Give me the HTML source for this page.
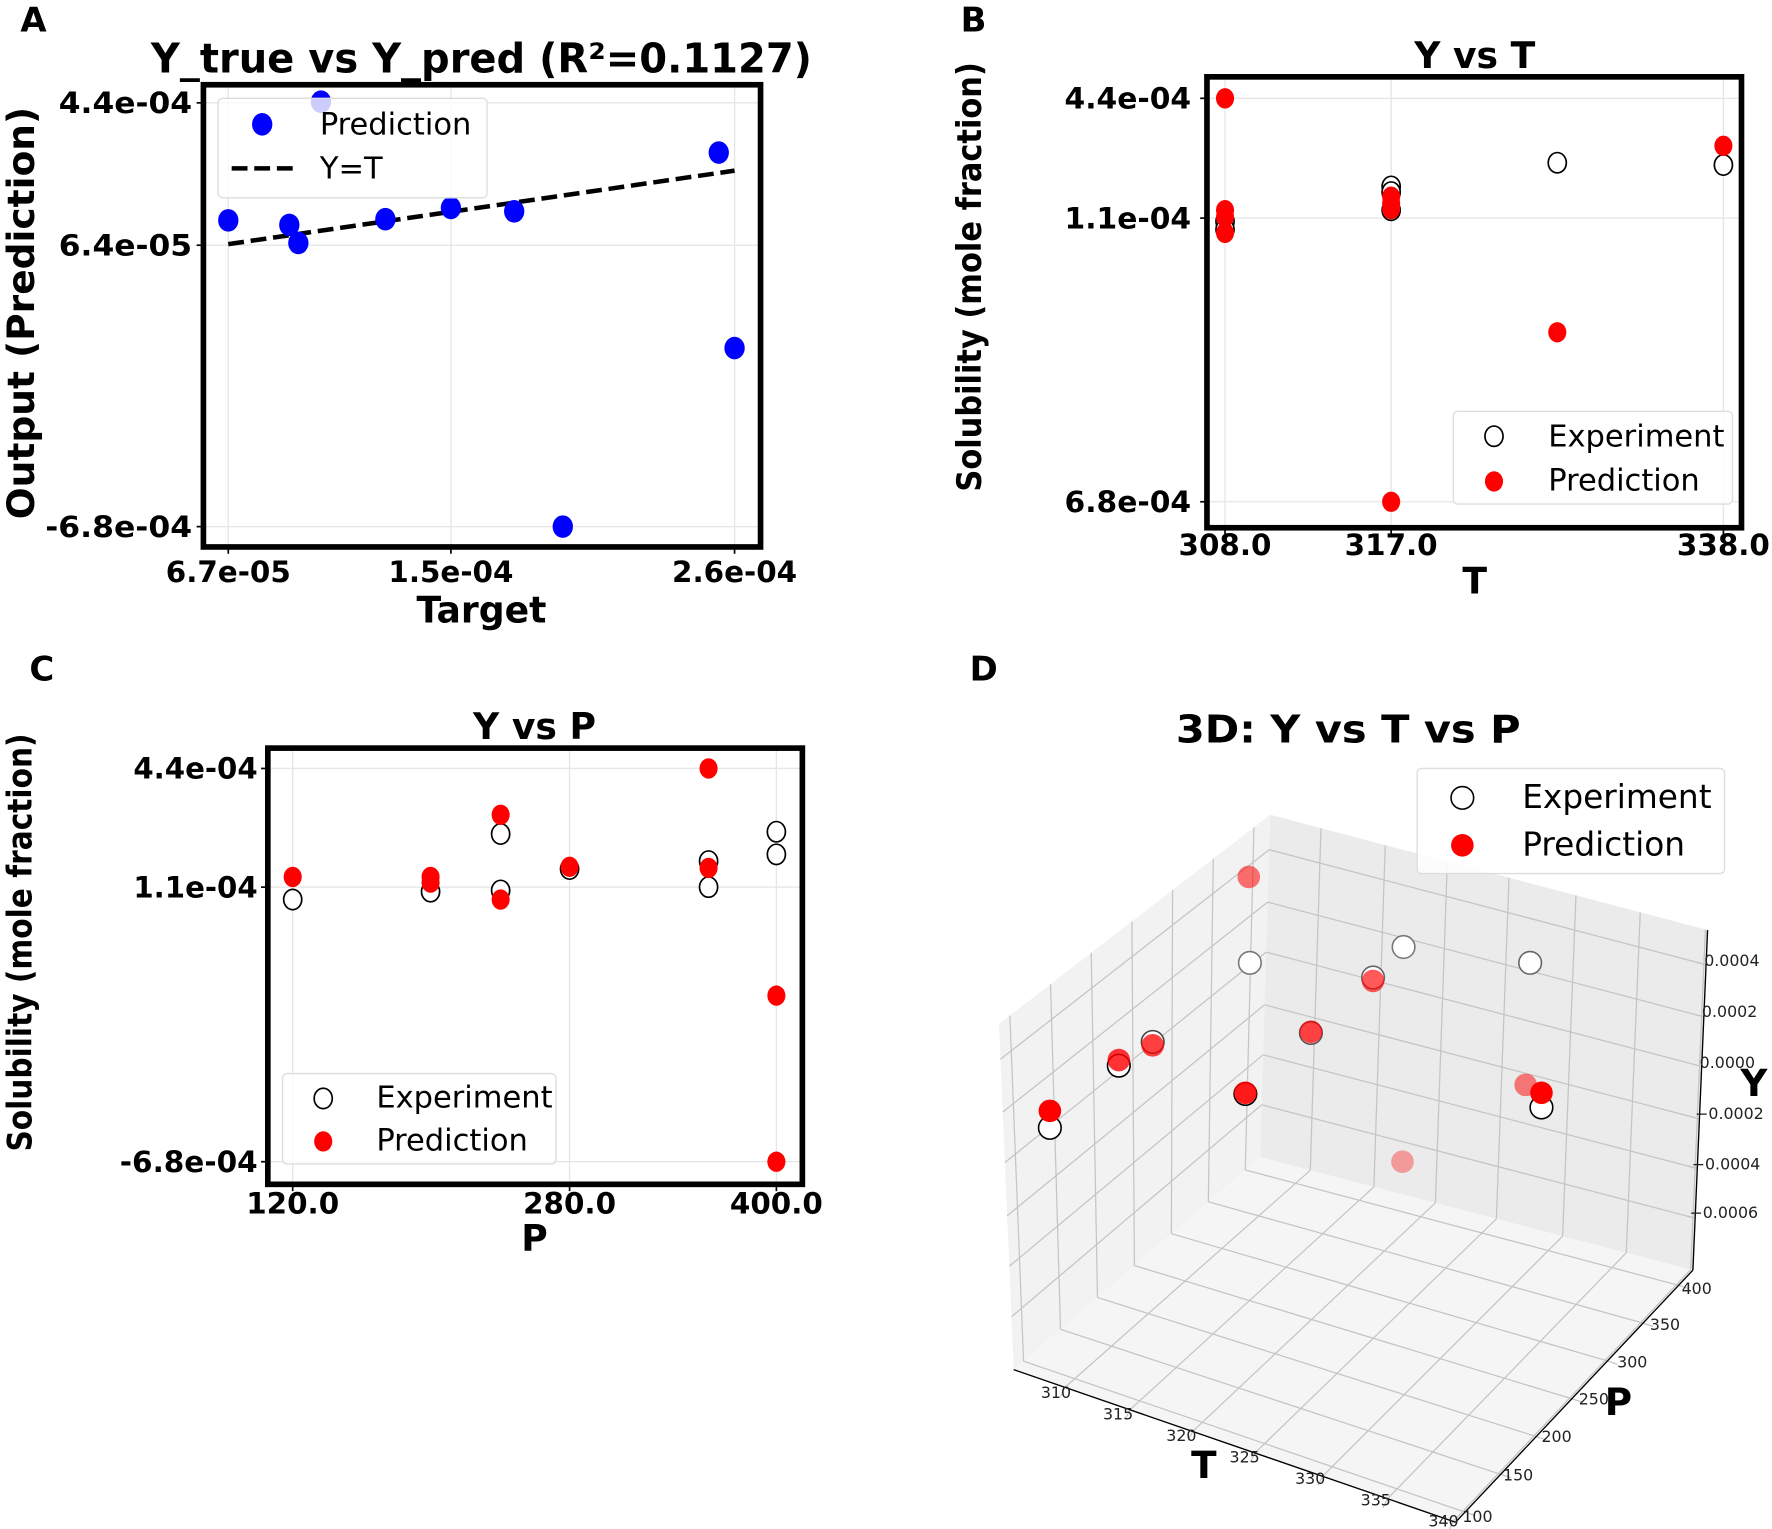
<!DOCTYPE html>
<html><head><meta charset="utf-8"><style>
html,body{margin:0;padding:0;background:#fff}
svg{display:block}
text{font-family:"DejaVu Sans","Liberation Sans",sans-serif}
.b{font-weight:bold}
</style></head><body>
<svg id="s" width="1772" height="1529" viewBox="0 0 1568 1353" preserveAspectRatio="none" xmlns="http://www.w3.org/2000/svg">
<rect width="1568" height="1353" fill="#fff"/>
<g class="b" font-size="30" font-weight="bold">
<text x="18" y="28">A</text><text x="850" y="28">B</text><text x="26" y="602">C</text><text x="858" y="602">D</text>
</g>

<!-- ===== Panel A ===== -->
<g stroke="#e6e6e6" stroke-width="1.2">
<line x1="180" y1="91" x2="673" y2="91"/><line x1="180" y1="217" x2="673" y2="217"/><line x1="180" y1="466" x2="673" y2="466"/>
<line x1="202" y1="75" x2="202" y2="484"/><line x1="399" y1="75" x2="399" y2="484"/><line x1="650" y1="75" x2="650" y2="484"/>
</g>
<g stroke="#000" stroke-width="1.5">
<line x1="174" y1="91" x2="180" y2="91"/><line x1="174" y1="217" x2="180" y2="217"/><line x1="174" y1="466" x2="180" y2="466"/>
<line x1="202" y1="484" x2="202" y2="490"/><line x1="399" y1="484" x2="399" y2="490"/><line x1="650" y1="484" x2="650" y2="490"/>
</g>
<line x1="202" y1="216" x2="650" y2="151" stroke="#000" stroke-width="4" stroke-dasharray="14,6"/>
<g fill="#0000ff">
<ellipse cx="202" cy="195" rx="9" ry="10"/><ellipse cx="256" cy="199" rx="9" ry="10"/><ellipse cx="264" cy="215" rx="9" ry="10"/>
<ellipse cx="341" cy="194" rx="9" ry="10"/><ellipse cx="399" cy="184" rx="9" ry="10"/><ellipse cx="455" cy="187" rx="9" ry="10"/>
<ellipse cx="498" cy="466" rx="9" ry="10"/><ellipse cx="636" cy="135" rx="9" ry="10"/><ellipse cx="650" cy="308" rx="9" ry="10"/>
<ellipse cx="284" cy="90" rx="9" ry="10"/>
</g>
<rect x="193" y="87" width="238" height="88" rx="4" fill="#fff" fill-opacity="0.8" stroke="#ddd" stroke-width="1.2"/>
<ellipse cx="232" cy="110" rx="9" ry="10" fill="#0000ff"/>
<line x1="205" y1="149" x2="259" y2="149" stroke="#000" stroke-width="4" stroke-dasharray="14,6"/>
<text x="283" y="119" font-size="27">Prediction</text>
<text x="283" y="158" font-size="27">Y=T</text>
<rect x="180" y="75" width="493" height="409" fill="none" stroke="#000" stroke-width="5"/>
<text x="426" y="64" font-size="36" class="b" text-anchor="middle" textLength="585" lengthAdjust="spacingAndGlyphs">Y_true vs Y_pred (R²=0.1127)</text>
<g font-size="26" class="b" text-anchor="end">
<text x="170" y="100" textLength="118" lengthAdjust="spacingAndGlyphs">4.4e-04</text><text x="170" y="226" textLength="118" lengthAdjust="spacingAndGlyphs">6.4e-05</text><text x="170" y="475" textLength="130" lengthAdjust="spacingAndGlyphs">-6.8e-04</text>
</g>
<g font-size="26" class="b" text-anchor="middle">
<text x="202" y="515">6.7e-05</text><text x="399" y="515">1.5e-04</text><text x="650" y="515">2.6e-04</text>
</g>
<text x="426" y="551" font-size="32" class="b" text-anchor="middle">Target</text>
<text transform="translate(30,277) rotate(-90)" font-size="33" class="b" text-anchor="middle" textLength="365" lengthAdjust="spacingAndGlyphs">Output (Prediction)</text>

<!-- ===== Panel B ===== -->
<g stroke="#e6e6e6" stroke-width="1.2">
<line x1="1068" y1="87" x2="1541" y2="87"/><line x1="1068" y1="193" x2="1541" y2="193"/><line x1="1068" y1="444" x2="1541" y2="444"/>
<line x1="1084" y1="68" x2="1084" y2="467"/><line x1="1231" y1="68" x2="1231" y2="467"/><line x1="1525" y1="68" x2="1525" y2="467"/>
</g>
<g stroke="#000" stroke-width="1.5">
<line x1="1062" y1="87" x2="1068" y2="87"/><line x1="1062" y1="193" x2="1068" y2="193"/><line x1="1062" y1="444" x2="1068" y2="444"/>
<line x1="1084" y1="467" x2="1084" y2="473"/><line x1="1231" y1="467" x2="1231" y2="473"/><line x1="1525" y1="467" x2="1525" y2="473"/>
</g>
<g fill="#fff" stroke="#000" stroke-width="1.5">
<ellipse cx="1084" cy="196" rx="8" ry="9"/><ellipse cx="1084" cy="203" rx="8" ry="9"/><ellipse cx="1231" cy="165" rx="8" ry="9"/>
<ellipse cx="1231" cy="170" rx="8" ry="9"/><ellipse cx="1231" cy="186" rx="8" ry="9"/><ellipse cx="1378" cy="144" rx="8" ry="9"/><ellipse cx="1525" cy="146" rx="8" ry="9"/>
</g>
<g fill="#ff0000">
<ellipse cx="1084" cy="87" rx="8" ry="9"/><ellipse cx="1084" cy="186" rx="8" ry="9"/><ellipse cx="1084" cy="192" rx="8" ry="9"/><ellipse cx="1084" cy="206" rx="8" ry="9"/>
<ellipse cx="1231" cy="174" rx="8" ry="9"/><ellipse cx="1231" cy="180" rx="8" ry="9"/><ellipse cx="1231" cy="185" rx="8" ry="9"/>
<ellipse cx="1378" cy="294" rx="8" ry="9"/><ellipse cx="1231" cy="444" rx="8" ry="9"/><ellipse cx="1525" cy="129" rx="8" ry="9"/>
</g>
<rect x="1286" y="364" width="247" height="82" rx="4" fill="#fff" fill-opacity="0.8" stroke="#ddd" stroke-width="1.2"/>
<ellipse cx="1322" cy="386" rx="8" ry="9" fill="#fff" stroke="#000" stroke-width="1.5"/>
<ellipse cx="1322" cy="426" rx="8" ry="9" fill="#ff0000"/>
<text x="1370" y="395" font-size="27">Experiment</text>
<text x="1370" y="434" font-size="27">Prediction</text>
<rect x="1068" y="68" width="473" height="399" fill="none" stroke="#000" stroke-width="5"/>
<text x="1305" y="60" font-size="32" class="b" text-anchor="middle">Y vs T</text>
<g font-size="26" class="b" text-anchor="end">
<text x="1054" y="96" textLength="112" lengthAdjust="spacingAndGlyphs">4.4e-04</text><text x="1054" y="202" textLength="112" lengthAdjust="spacingAndGlyphs">1.1e-04</text><text x="1054" y="453" textLength="112" lengthAdjust="spacingAndGlyphs">6.8e-04</text>
</g>
<g font-size="26" class="b" text-anchor="middle">
<text x="1084" y="491">308.0</text><text x="1231" y="491">317.0</text><text x="1525" y="491">338.0</text>
</g>
<text x="1305" y="525" font-size="32" class="b" text-anchor="middle">T</text>
<text transform="translate(868,245) rotate(-90)" font-size="30" class="b" text-anchor="middle" textLength="380" lengthAdjust="spacingAndGlyphs">Solubility (mole fraction)</text>

<!-- ===== Panel C ===== -->
<g stroke="#e6e6e6" stroke-width="1.2">
<line x1="237" y1="680" x2="710" y2="680"/><line x1="237" y1="785" x2="710" y2="785"/><line x1="237" y1="1028" x2="710" y2="1028"/>
<line x1="259" y1="662" x2="259" y2="1048"/><line x1="504" y1="662" x2="504" y2="1048"/><line x1="687" y1="662" x2="687" y2="1048"/>
</g>
<g stroke="#000" stroke-width="1.5">
<line x1="231" y1="680" x2="237" y2="680"/><line x1="231" y1="785" x2="237" y2="785"/><line x1="231" y1="1028" x2="237" y2="1028"/>
<line x1="259" y1="1048" x2="259" y2="1054"/><line x1="504" y1="1048" x2="504" y2="1054"/><line x1="687" y1="1048" x2="687" y2="1054"/>
</g>
<g fill="#fff" stroke="#000" stroke-width="1.5">
<ellipse cx="259" cy="796" rx="8" ry="9"/><ellipse cx="381" cy="789" rx="8" ry="9"/><ellipse cx="443" cy="738" rx="8" ry="9"/><ellipse cx="443" cy="788" rx="8" ry="9"/>
<ellipse cx="504" cy="769" rx="8" ry="9"/><ellipse cx="627" cy="762" rx="8" ry="9"/><ellipse cx="627" cy="785" rx="8" ry="9"/><ellipse cx="687" cy="736" rx="8" ry="9"/><ellipse cx="687" cy="756" rx="8" ry="9"/>
</g>
<g fill="#ff0000">
<ellipse cx="259" cy="776" rx="8" ry="9"/><ellipse cx="381" cy="776" rx="8" ry="9"/><ellipse cx="381" cy="781" rx="8" ry="9"/><ellipse cx="443" cy="721" rx="8" ry="9"/>
<ellipse cx="443" cy="796" rx="8" ry="9"/><ellipse cx="504" cy="767" rx="8" ry="9"/><ellipse cx="627" cy="680" rx="8" ry="9"/><ellipse cx="627" cy="768" rx="8" ry="9"/>
<ellipse cx="687" cy="881" rx="8" ry="9"/><ellipse cx="687" cy="1028" rx="8" ry="9"/>
</g>
<rect x="250" y="950" width="242" height="80" rx="4" fill="#fff" fill-opacity="0.8" stroke="#ddd" stroke-width="1.2"/>
<ellipse cx="286" cy="972" rx="8" ry="9" fill="#fff" stroke="#000" stroke-width="1.5"/>
<ellipse cx="286" cy="1010" rx="8" ry="9" fill="#ff0000"/>
<text x="333" y="980" font-size="27">Experiment</text>
<text x="333" y="1018" font-size="27">Prediction</text>
<rect x="237" y="662" width="473" height="386" fill="none" stroke="#000" stroke-width="5"/>
<text x="473" y="654" font-size="32" class="b" text-anchor="middle">Y vs P</text>
<g font-size="26" class="b" text-anchor="end">
<text x="228" y="689" textLength="110" lengthAdjust="spacingAndGlyphs">4.4e-04</text><text x="228" y="794" textLength="110" lengthAdjust="spacingAndGlyphs">1.1e-04</text><text x="228" y="1037" textLength="122" lengthAdjust="spacingAndGlyphs">-6.8e-04</text>
</g>
<g font-size="26" class="b" text-anchor="middle">
<text x="259" y="1074">120.0</text><text x="504" y="1074">280.0</text><text x="687" y="1074">400.0</text>
</g>
<text x="473" y="1107" font-size="32" class="b" text-anchor="middle">P</text>
<text transform="translate(28,834) rotate(-90)" font-size="30" class="b" text-anchor="middle" textLength="370" lengthAdjust="spacingAndGlyphs">Solubility (mole fraction)</text>

<!-- ===== Panel D ===== -->
<polygon points="884,906 1124,721 1115,1024 897,1212" fill="#f2f2f2"/>
<polygon points="1124,721 1511,823 1498,1124 1115,1024" fill="#ebebeb"/>
<polygon points="1115,1024 897,1212 1288,1347 1498,1124" fill="#f5f5f5"/>
<g id="grid3d" stroke="#c4c4c4" stroke-width="1.1" fill="none"></g>
<g stroke="#000" stroke-width="1.2">
<line x1="897" y1="1212" x2="1288" y2="1347"/><line x1="1288" y1="1347" x2="1498" y2="1124"/><line x1="1498" y1="1124" x2="1511" y2="823"/>
</g>
<g fill="#fff" stroke="#000" stroke-width="1.4">
<circle cx="929" cy="998" r="10"/><circle cx="990" cy="943" r="10"/><circle cx="1020" cy="922" r="10" stroke="#444"/>
<circle cx="1106" cy="852" r="10" stroke="#777"/><circle cx="1215" cy="865" r="10" stroke="#666"/><circle cx="1242" cy="838" r="10" stroke="#777"/>
<circle cx="1354" cy="852" r="10" stroke="#666"/><circle cx="1160" cy="914" r="10" stroke="#555"/><circle cx="1102" cy="968" r="10"/><circle cx="1364" cy="980" r="10"/>
</g>
<g fill="#ff0000">
<circle cx="929" cy="983" r="10"/><circle cx="990" cy="938" r="10" fill-opacity="0.8"/><circle cx="1020" cy="925" r="10" fill-opacity="0.75"/>
<circle cx="1105" cy="776" r="10" fill-opacity="0.55"/><circle cx="1215" cy="868" r="10" fill-opacity="0.65"/><circle cx="1160" cy="913" r="10" fill-opacity="0.75"/>
<circle cx="1102" cy="967" r="10" fill-opacity="0.9"/><circle cx="1241" cy="1028" r="10" fill-opacity="0.35"/><circle cx="1350" cy="960" r="10" fill-opacity="0.5"/><circle cx="1364" cy="967" r="10"/>
</g>
<text x="1193" y="657" font-size="34" class="b" text-anchor="middle" textLength="305" lengthAdjust="spacingAndGlyphs">3D: Y vs T vs P</text>
<rect x="1254" y="680" width="272" height="93" rx="4" fill="#fff" fill-opacity="0.85" stroke="#ddd" stroke-width="1.2"/>
<circle cx="1294" cy="706" r="10" fill="#fff" stroke="#000" stroke-width="1.4"/>
<circle cx="1294" cy="748" r="10" fill="#ff0000"/>
<text x="1347" y="715" font-size="29">Experiment</text>
<text x="1347" y="757" font-size="29">Prediction</text>
<g font-size="14" fill="#222">
<text x="1508" y="855">0.0004</text><text x="1506" y="900">0.0002</text><text x="1504" y="945">0.0000</text>
<text x="1500" y="990">−0.0002</text><text x="1497" y="1035">−0.0004</text><text x="1495" y="1078">−0.0006</text>
<text x="1488" y="1145">400</text><text x="1460" y="1177">350</text><text x="1431" y="1210">300</text><text x="1397" y="1243">250</text>
<text x="1364" y="1276">200</text><text x="1330" y="1310">150</text><text x="1294" y="1347">100</text>
<text x="921" y="1237">310</text><text x="976" y="1256">315</text><text x="1032" y="1275">320</text><text x="1088" y="1294">325</text>
<text x="1146" y="1313">330</text><text x="1204" y="1332">335</text><text x="1264" y="1351">340</text>
</g>
<text x="1540" y="970" font-size="33" class="b">Y</text>
<text x="1420" y="1252" font-size="33" class="b">P</text>
<text x="1054" y="1308" font-size="33" class="b">T</text>
</svg>
<script>
(function(){
var g=document.getElementById('grid3d');
function L(a,b){var l=document.createElementNS('http://www.w3.org/2000/svg','line');l.setAttribute('x1',a[0]);l.setAttribute('y1',a[1]);l.setAttribute('x2',b[0]);l.setAttribute('y2',b[1]);g.appendChild(l);}
function lerp(a,b,t){return [a[0]+(b[0]-a[0])*t,a[1]+(b[1]-a[1])*t];}
var LT=[884,906],BT=[1124,721],BB=[1115,1024],LB=[897,1212],RT=[1511,823],RB=[1498,1124],FB=[1288,1347];
var yf=[0.102,0.255,0.401,0.555,0.701,0.847];
var pf=[0.04,0.19,0.34,0.49,0.64,0.79,0.94];
var tf=[0.116,0.263,0.405,0.546,0.699,0.846,0.995];
pf.forEach(function(t){L(lerp(LT,BT,t),lerp(LB,BB,t));});
yf.forEach(function(t){L(lerp(LT,LB,t),lerp(BT,BB,t));});
tf.forEach(function(t){L(lerp(BT,RT,t),lerp(BB,RB,t));});
yf.forEach(function(t){L(lerp(BT,BB,t),lerp(RT,RB,t));});
tf.forEach(function(t){L(lerp(LB,FB,t),lerp(BB,RB,t));});
pf.forEach(function(t){L(lerp(LB,BB,t),lerp(FB,RB,t));});
pf.forEach(function(t){var p=lerp(FB,RB,t);L(p,[p[0]+9,p[1]+3]);});
tf.forEach(function(t){var p=lerp(LB,FB,t);L(p,[p[0]-4,p[1]+8]);});
yf.forEach(function(t){var p=lerp(RT,RB,t);L(p,[p[0]-8,p[1]-2]);});
})();
</script>
</body></html>
